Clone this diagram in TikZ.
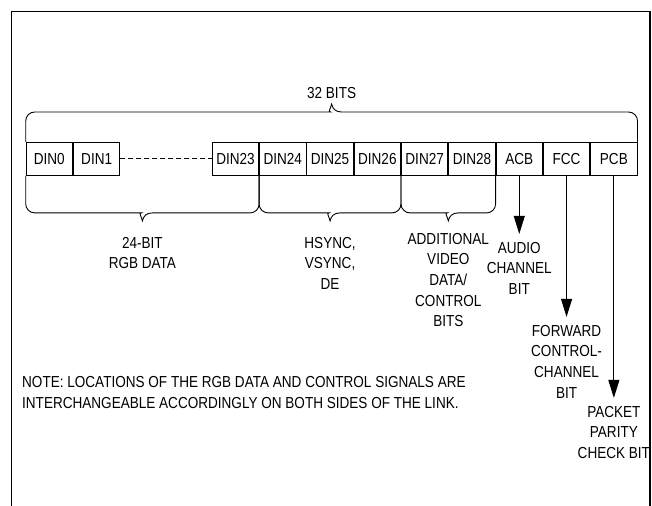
\documentclass[tikz,border=0pt]{standalone}
\usepackage{fontspec}
\setmainfont{Liberation Sans}[FakeStretch=0.85]
\usetikzlibrary{positioning,calc,arrows.meta}

\tikzset{
  cell/.style={draw, line width=0.9bp, minimum width=46.4bp, minimum height=33bp,
    inner sep=0pt, font=\fontsize{16}{20}\selectfont},
  lbl/.style={align=center, inner sep=0pt, font=\fontsize{16}{20.7}\selectfont},
  arr/.style={line width=0.9bp, shorten >=8bp, -{Triangle[length=18bp,width=11bp]}},
}

% brace from #1 to #2, leg #3, cusp #4, tip named #5
\newcommand{\bitbrace}[5]{%
  \draw[line width=0.9bp, rounded corners=9bp] (#1) |- ($(#1)!.5!(#2)+(-10,#3)$)
    [sharp corners] .. controls +(6,0) and +(-1,{-0.6*(#4)}) .. ($(#1)!.5!(#2)+(0,{#3+#4})$) coordinate (#5)
    .. controls +(1,{-0.6*(#4)}) and +(-6,0) .. ($(#1)!.5!(#2)+(10,#3)$)
    [rounded corners=9bp] -| (#2);
}

\begin{document}
\begin{tikzpicture}[x=1bp, y=-1bp, node distance=0pt]
    \useasboundingbox (0,0) rectangle (652,506);
    % frame
    \draw[line width=1.8bp] (11.5,506) -- (11.5,11.5) -- (650,11.5) -- (650,506);

    % bit cells
    \node[cell, anchor=north west] (din0) at (25.7,142) {DIN0};
    \node[cell, right=of din0] (din1) {DIN1};
    \node[cell, right=91.5bp of din1] (din23) {DIN23};
    \node[cell, right=of din23] (din24) {DIN24};
    \node[cell, right=of din24] (din25) {DIN25};
    \node[cell, right=of din25] (din26) {DIN26};
    \node[cell, right=of din26] (din27) {DIN27};
    \node[cell, right=of din27] (din28) {DIN28};
    \node[cell, right=of din28] (acb) {ACB};
    \node[cell, right=of acb] (fcc) {FCC};
    \node[cell, right=of fcc] (pcb) {PCB};
    \draw[line width=0.9bp, dash pattern=on 5bp off 3bp] (din1.east) -- (din23.west);

    % braces
    \bitbrace{din0.north west}{pcb.north east}{-30}{-8}{top}
    \bitbrace{din0.south west}{din23.south east}{37}{8}{rgb}
    \bitbrace{din24.south west}{din26.south east}{37}{8}{sync}
    \bitbrace{din27.south west}{din28.south east}{37}{8}{extra}

    \node[lbl, above=5bp of top] (bits) {32 BITS};
    \node[lbl, below=16bp of rgb] (rgbtxt) {24-BIT\\RGB DATA};
    \node[lbl, below=16bp of sync] (synctxt) {HSYNC,\\VSYNC,\\DE};
    \node[lbl, below=12bp of extra] (extratxt) {ADDITIONAL\\VIDEO\\DATA/\\CONTROL\\BITS};

    % single bits
    \node[lbl, below=66bp of acb] (acbtxt) {AUDIO\\CHANNEL\\BIT};
    \node[lbl, below=149bp of fcc] (fcctxt) {FORWARD\\CONTROL-\\CHANNEL\\BIT};
    \node[lbl, below=230bp of pcb] (pcbtxt) {PACKET\\PARITY\\CHECK BIT};
    \draw[arr] (acb) -- (acbtxt);
    \draw[arr] (fcc) -- (fcctxt);
    \draw[arr] (pcb) -- (pcbtxt);

    \node[lbl, align=left, anchor=north west, font=\fontsize{16}{21.5}\selectfont] (note) at (22,376)
        {NOTE: LOCATIONS OF THE RGB DATA AND CONTROL SIGNALS ARE\\INTERCHANGEABLE ACCORDINGLY ON BOTH SIDES OF THE LINK.};
\end{tikzpicture}
\end{document}
